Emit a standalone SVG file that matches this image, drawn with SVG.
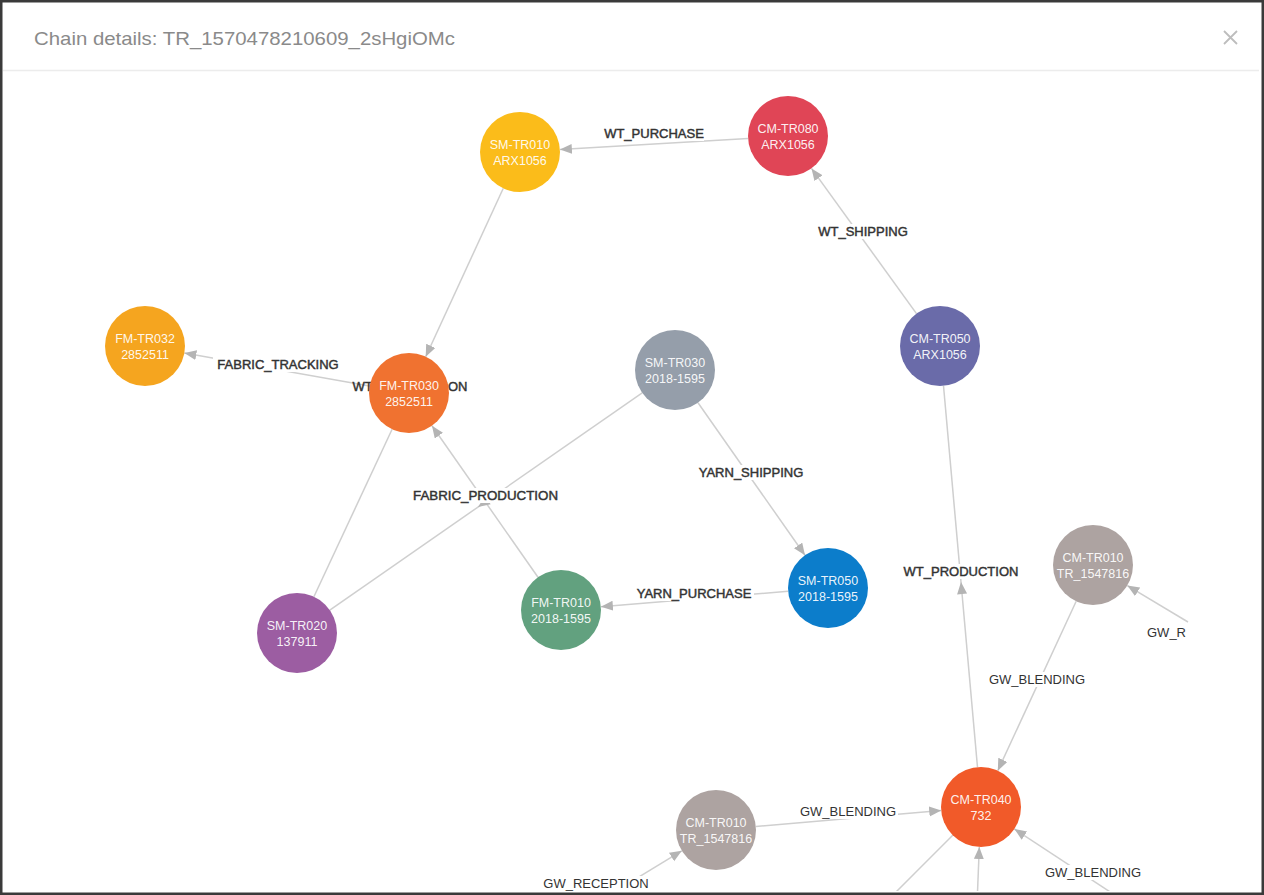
<svg xmlns="http://www.w3.org/2000/svg" width="1264" height="895" viewBox="0 0 1264 895">
<defs>
<style>
.e{stroke:#cfcfcf;stroke-width:1.5;fill:none}
.ea{marker-end:url(#arr)}
.lb{font-family:"Liberation Sans",Arial,sans-serif;font-size:13px;fill:#333;text-anchor:middle}
.dk{stroke:#333;stroke-width:0.45}
.bg{fill:#fff}
.nt{font-family:"Liberation Sans",Arial,sans-serif;font-size:12.5px;fill:#fff;fill-opacity:0.93;text-anchor:middle}
</style>
<marker id="arr" markerUnits="userSpaceOnUse" markerWidth="13" markerHeight="11" refX="12" refY="5" orient="auto" viewBox="0 0 13 11">
<path d="M0,0 L12,5 L0,10 z" fill="#b4b4b4"/>
</marker>
<clipPath id="cc"><rect x="3" y="72" width="1257" height="819"/></clipPath>
</defs>
<rect x="0" y="0" width="1264" height="895" fill="#fff"/>
<g id="header">
<text x="34" y="45" font-family="Liberation Sans,Arial,sans-serif" font-size="19" fill="#8a8a8a" textLength="421" lengthAdjust="spacingAndGlyphs">Chain details: TR_1570478210609_2sHgiOMc</text>
<path d="M1224,31 L1237,44 M1237,31 L1224,44" stroke="#bdbdbd" stroke-width="1.8"/>
<line x1="3" y1="70.5" x2="1259" y2="70.5" stroke="#ececec" stroke-width="1.5"/>
</g>
<g clip-path="url(#cc)">
<g id="connectors">
<line class="e ea" x1="748.1" y1="138.4" x2="559.9" y2="149.6"/>
<line class="e ea" x1="916.5" y1="313.6" x2="811.5" y2="168.4"/>
<line class="e ea" x1="503.3" y1="188.3" x2="425.7" y2="356.7"/>
<line class="e ea" x1="369.6" y1="386" x2="184.4" y2="353"/>
<line class="e ea" x1="538" y1="577.2" x2="432" y2="425.8"/>
<line class="e" x1="313.9" y1="596.7" x2="392.1" y2="429.3"/>
<line class="e" x1="642.2" y1="392.8" x2="329.8" y2="610.2"/>
<line class="e ea" x1="698" y1="402.7" x2="805" y2="555.3"/>
<line class="e ea" x1="788.1" y1="591.3" x2="600.9" y2="606.7"/>
<line class="e" x1="977.5" y1="767.2" x2="943.5" y2="385.8"/>
<line class="e ea" x1="1076.2" y1="601.3" x2="997.8" y2="770.7"/>
<line class="e ea" x1="755.8" y1="826.5" x2="941.2" y2="810.5"/>
<line class="e ea" x1="1188" y1="622" x2="1127.3" y2="585.6"/>
<line class="e ea" x1="560" y1="925" x2="681.8" y2="850.8"/>
<line class="e ea" x1="977" y1="905" x2="979.3" y2="847"/>
<line class="e" x1="952.7" y1="835.3" x2="885" y2="903"/>
<line class="e ea" x1="1130" y1="905" x2="1014.4" y2="829"/>
<!-- mid arrows -->
<path d="M0,0 L-12,-5 L-12,5 z" fill="#b4b4b4" transform="translate(478,507) rotate(145.2)"/>
<path d="M0,0 L-12,-5 L-12,5 z" fill="#b4b4b4" transform="translate(961,582) rotate(-95.1)"/>
<!-- labels -->
<rect class="bg" x="604" y="126" width="100" height="15"/>
<text class="lb dk" x="654" y="138">WT_PURCHASE</text>
<rect class="bg" x="818" y="224" width="90" height="15"/>
<text class="lb dk" x="863" y="236">WT_SHIPPING</text>
<rect class="bg" x="213" y="357" width="131" height="15"/>
<text class="lb dk" x="278" y="369">FABRIC_TRACKING</text>
<text class="lb dk" x="410" y="391">WT_PRODUCTION</text>
<rect class="bg" x="413" y="488" width="145" height="15"/>
<text class="lb dk" x="485.5" y="500" textLength="145" lengthAdjust="spacingAndGlyphs">FABRIC_PRODUCTION</text>
<rect class="bg" x="697" y="465" width="109" height="15"/>
<text class="lb dk" x="751" y="477">YARN_SHIPPING</text>
<rect class="bg" x="635" y="586" width="119" height="15"/>
<text class="lb dk" x="694" y="598">YARN_PURCHASE</text>
<rect class="bg" x="902" y="564" width="118" height="15"/>
<text class="lb dk" x="961" y="576">WT_PRODUCTION</text>
<rect class="bg" x="988" y="672" width="99" height="15"/>
<text class="lb" x="1037" y="684">GW_BLENDING</text>
<rect class="bg" x="1146" y="625" width="46" height="15"/>
<text class="lb" x="1147" y="637" style="text-anchor:start">GW_R</text>
<rect class="bg" x="798" y="804" width="100" height="15"/>
<text class="lb" x="848" y="816">GW_BLENDING</text>
<rect class="bg" x="540" y="876" width="112" height="15"/>
<text class="lb" x="596" y="888">GW_RECEPTION</text>
<rect class="bg" x="1043" y="865" width="100" height="15"/>
<text class="lb" x="1093" y="877">GW_BLENDING</text>
</g>
<g id="n-sm-tr010-arx"><circle cx="520" cy="152" r="40" fill="#FBBC1A"/><text class="nt" x="520" y="149">SM-TR010</text><text class="nt" x="520" y="165">ARX1056</text></g>
<g id="n-cm-tr080"><circle cx="788" cy="136" r="40" fill="#E04556"/><text class="nt" x="788" y="133">CM-TR080</text><text class="nt" x="788" y="149">ARX1056</text></g>
<g id="n-fm-tr032"><circle cx="145" cy="346" r="40" fill="#F5A51F"/><text class="nt" x="145" y="343">FM-TR032</text><text class="nt" x="145" y="359">2852511</text></g>
<g id="n-fm-tr030"><circle cx="409" cy="393" r="40" fill="#F07230"/><text class="nt" x="409" y="390">FM-TR030</text><text class="nt" x="409" y="406">2852511</text></g>
<g id="n-sm-tr030"><circle cx="675" cy="370" r="40" fill="#959EAA"/><text class="nt" x="675" y="367">SM-TR030</text><text class="nt" x="675" y="383">2018-1595</text></g>
<g id="n-cm-tr050"><circle cx="940" cy="346" r="40" fill="#6A6BA9"/><text class="nt" x="940" y="343">CM-TR050</text><text class="nt" x="940" y="359">ARX1056</text></g>
<g id="n-sm-tr020"><circle cx="297" cy="633" r="40" fill="#9C5DA2"/><text class="nt" x="297" y="630">SM-TR020</text><text class="nt" x="297" y="646">137911</text></g>
<g id="n-fm-tr010"><circle cx="561" cy="610" r="40" fill="#62A17F"/><text class="nt" x="561" y="607">FM-TR010</text><text class="nt" x="561" y="623">2018-1595</text></g>
<g id="n-sm-tr050"><circle cx="828" cy="588" r="40" fill="#0C7DCB"/><text class="nt" x="828" y="585">SM-TR050</text><text class="nt" x="828" y="601">2018-1595</text></g>
<g id="n-cm-tr010-a"><circle cx="1093" cy="565" r="40" fill="#ADA3A1"/><text class="nt" x="1093" y="562">CM-TR010</text><text class="nt" x="1093" y="578">TR_1547816</text></g>
<g id="n-cm-tr040"><circle cx="981" cy="807" r="40" fill="#F15A29"/><text class="nt" x="981" y="804">CM-TR040</text><text class="nt" x="981" y="820">732</text></g>
<g id="n-cm-tr010-b"><circle cx="716" cy="830" r="40" fill="#ADA3A1"/><text class="nt" x="716" y="827">CM-TR010</text><text class="nt" x="716" y="843">TR_1547816</text></g>
</g>
<rect x="1.25" y="1.25" width="1261.5" height="892.5" fill="none" stroke="#3a3a3a" stroke-width="2.5"/>
</svg>
